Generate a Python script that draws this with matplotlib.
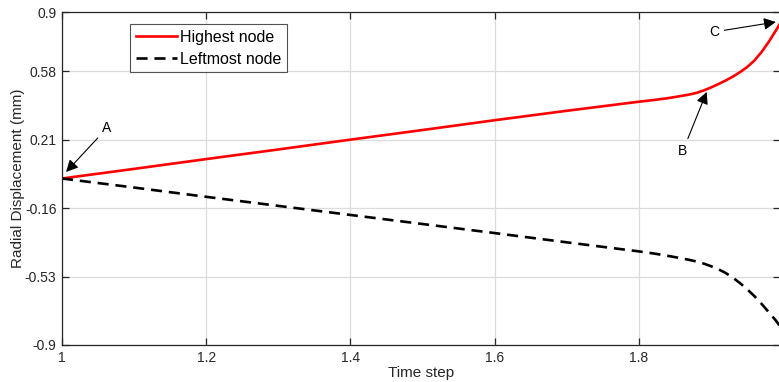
import matplotlib
matplotlib.use("Agg")
import matplotlib.pyplot as plt

plt.rcParams['font.family'] = ['Liberation Sans', 'DejaVu Sans']

# Data
time_high = [1.0, 1.1, 1.2, 1.3, 1.4, 1.5, 1.6, 1.7, 1.8, 1.82, 1.84, 1.86, 1.87,
             1.88, 1.89, 1.9, 1.91, 1.92, 1.93, 1.94, 1.95, 1.96, 1.97, 1.98,
             1.99, 1.996]
highest_node = [0.0, 0.052, 0.105, 0.157, 0.21, 0.262, 0.315, 0.366, 0.415, 0.424,
                0.434, 0.447, 0.454, 0.463, 0.476, 0.492, 0.510, 0.529, 0.550,
                0.574, 0.602, 0.637, 0.683, 0.738, 0.80, 0.84]
time_left = [1.0, 1.1, 1.2, 1.3, 1.4, 1.5, 1.6, 1.7, 1.8, 1.82, 1.84, 1.86, 1.87,
             1.88, 1.89, 1.9, 1.91, 1.92, 1.93, 1.94, 1.95, 1.96, 1.97, 1.98,
             1.99, 1.996]
leftmost_node = [0.0, -0.049, -0.099, -0.148, -0.197, -0.246, -0.295, -0.345, -0.394,
                 -0.405, -0.418, -0.432, -0.44, -0.449, -0.46, -0.474, -0.49, -0.51,
                 -0.535, -0.565, -0.598, -0.635, -0.677, -0.722, -0.768, -0.80]
xticks = [1.0, 1.2, 1.4, 1.6, 1.8]
xtick_labels = ['1', '1.2', '1.4', '1.6', '1.8']
yticks = [-0.9, -0.53, -0.16, 0.21, 0.58, 0.9]
ytick_labels = ['-0.9', '-0.53', '-0.16', '0.21', '0.58', '0.9']
annotations = [('A', (1.0056, 0.035), (1.0625, 0.273)),
               ('B', (1.894, 0.468), (1.861, 0.149)),
               ('C', (1.990, 0.846), (1.904, 0.792))]

fig = plt.figure(figsize=(7.79, 3.82), dpi=100)
ax = fig.add_axes([62 / 779, 37 / 382, 717.5 / 779, 333 / 382])

ax.plot(time_high, highest_node, color='#ff0000', lw=1.9, label='Highest node')
ax.plot(time_left, leftmost_node, color='black', lw=1.9, dashes=(4.2, 2.6),
        label='Leftmost node')

ax.set_xlim(1.0, 1.995)
ax.set_ylim(-0.9, 0.9)
ax.set_xticks(xticks)
ax.set_xticklabels(xtick_labels)
ax.set_yticks(yticks)
ax.set_yticklabels(ytick_labels)

ax.grid(True, color='#dcdcdc', lw=0.9)
ax.set_axisbelow(True)
for s in ax.spines.values():
    s.set_color('#262626')
    s.set_linewidth(0.9)
ax.tick_params(direction='in', top=True, right=True, length=5, width=0.9,
               colors='#262626', labelsize=10, pad=4)

ax.set_xlabel('Time step', fontsize=11, color='#262626', labelpad=1)
ax.set_ylabel('Radial Displacement (mm)', fontsize=11, color='#262626', labelpad=0)

for label, xy, xytext in annotations:
    ax.annotate(label, xy=xy, xytext=xytext, fontsize=10, color='black',
                ha='center', va='center',
                arrowprops=dict(arrowstyle='-|>', color='black', lw=0.8,
                                mutation_scale=18, shrinkA=2, shrinkB=0))

leg = ax.legend(loc='upper left', bbox_to_anchor=(0.095, 0.964), fontsize=11.5,
                frameon=True, fancybox=False, edgecolor='#262626',
                handlelength=2.6, borderpad=0.35, labelspacing=0.45,
                handletextpad=0.2, borderaxespad=0)
leg.get_frame().set_linewidth(0.8)

fig.savefig('out.png', dpi=100)
